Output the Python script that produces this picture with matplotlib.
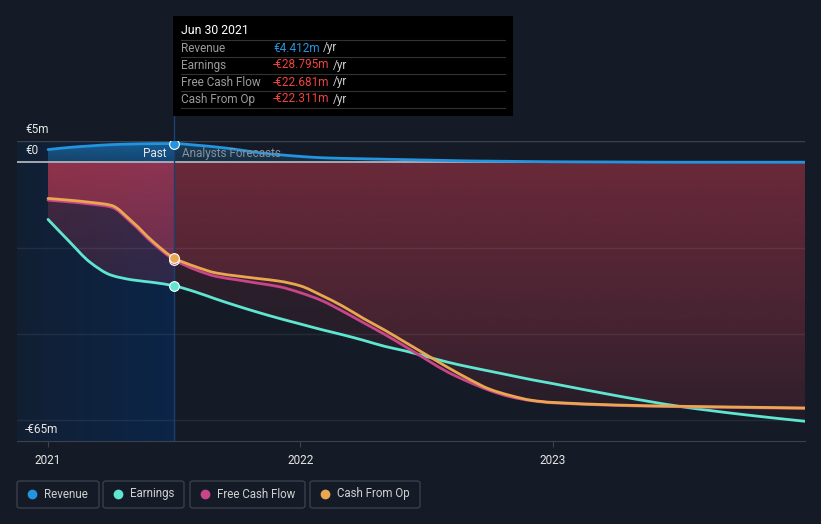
import numpy as np
import matplotlib as mpl
mpl.use('Agg')
import matplotlib.pyplot as plt
from matplotlib.colors import to_rgb
from matplotlib.patches import Rectangle, FancyBboxPatch, PathPatch
from matplotlib.path import Path

plt.rcParams['font.family'] = ['Roboto', 'DejaVu Sans']

# monthly points through 2022, then quarterly
t = [2021.0, 2021 + 1/12, 2021 + 2/12, 2021.25, 2021 + 4/12, 2021 + 5/12, 2021.5,
     2021 + 7/12, 2021 + 8/12, 2021.75, 2021 + 10/12, 2021 + 11/12, 2022.0,
     2022 + 1/12, 2022 + 2/12, 2022.25, 2022 + 4/12, 2022 + 5/12, 2022.5,
     2022 + 7/12, 2022 + 8/12, 2022.75, 2022 + 10/12, 2022 + 11/12, 2023.0,
     2023.25, 2023.5, 2023.75, 2024.0]

revenue = [3.0, 3.5, 3.85, 4.15, 4.3, 4.38, 4.412,
           4.05, 3.6, 3.0, 2.3, 1.8, 1.4,
           1.1, 0.95, 0.85, 0.75, 0.65, 0.55,
           0.45, 0.35, 0.3, 0.25, 0.2, 0.15,
           0.1, 0.05, 0.05, 0.05]
earnings = [-13.3, -18.4, -23.3, -26.3, -27.4, -28.0, -28.795,
            -30.2, -31.9, -33.5, -35.0, -36.4, -37.7,
            -39.0, -40.2, -41.5, -42.9, -44.0, -45.3,
            -46.6, -47.7, -48.7, -49.7, -50.7, -51.6,
            -54.4, -56.9, -58.8, -60.4]
fcf = [-8.8, -9.2, -9.7, -10.4, -14.2, -18.9, -22.681,
       -25.0, -26.6, -27.4, -28.2, -29.0, -30.4,
       -32.2, -34.7, -37.4, -40.1, -43.0, -46.0,
       -48.9, -51.2, -53.2, -54.7, -55.6, -56.1,
       -56.7, -57.0, -57.2, -57.4]
cfo = [-8.4, -8.8, -9.3, -10.0, -13.8, -18.5, -22.311,
       -24.3, -25.8, -26.5, -27.1, -27.7, -28.8,
       -31.0, -33.5, -36.4, -39.1, -42.0, -44.9,
       -47.8, -50.5, -52.9, -54.4, -55.5, -56.0,
       -56.6, -56.9, -57.1, -57.3]

names = ['Revenue', 'Earnings', 'Free Cash Flow', 'Cash From Op']
colors = ['#2394df', '#5ee6d0', '#c8458a', '#e9a84f']
tip_values = ['€4.412m', '-€28.795m', '-€22.681m', '-€22.311m']

BG = '#151b26'
W, H = 821, 524
x0, x1 = 2020.877, 2024.0
now = 2021.5

fig = plt.figure(figsize=(W / 100, H / 100), dpi=100, facecolor=BG)
ax = fig.add_axes([17 / W, 1 - 441 / H, 788 / W, 300 / H])
ax.set_facecolor(BG)


def px(x, y):
    return x / W, 1 - y / H


def curve_verts(x, y):
    # monotone cubic (like d3 curveMonotoneX) drawn as bezier segments
    x = np.asarray(x, float)
    y = np.asarray(y, float)
    h = np.diff(x)
    d = np.diff(y) / h
    m = np.zeros(len(x))
    m[0], m[-1] = d[0], d[-1]
    for i in range(1, len(x) - 1):
        if d[i - 1] * d[i] <= 0:
            m[i] = 0
        else:
            m[i] = (h[i - 1] + h[i]) * d[i - 1] * d[i] / (h[i] * d[i - 1] + h[i - 1] * d[i])
    verts = [(x[0], y[0])]
    codes = [Path.MOVETO]
    for i in range(len(x) - 1):
        verts += [(x[i] + h[i] / 3, y[i] + m[i] * h[i] / 3),
                  (x[i + 1] - h[i] / 3, y[i + 1] - m[i + 1] * h[i] / 3),
                  (x[i + 1], y[i + 1])]
        codes += [Path.CURVE4] * 3
    return verts, codes


def draw_line(x, y, color):
    v, c = curve_verts(x, y)
    ax.add_patch(PathPatch(Path(v, c), facecolor='none', edgecolor=color,
                           lw=2, zorder=3, capstyle='round'))


def grad_fill(x, y, color, parts):
    v, c = curve_verts(x, y)
    v = v + [(x[-1], 0), (x[0], 0), (x[0], y[0])]
    c = c + [Path.LINETO, Path.LINETO, Path.CLOSEPOLY]
    path = Path(v, c)
    lo = min(min(y), 0)
    hi = max(max(y), 0)
    for xa, xb, a_top, a_bot in parts:
        img = np.zeros((256, 1, 4))
        img[:, :, :3] = to_rgb(color)
        if hi > 0:
            img[:, 0, 3] = np.linspace(a_top, a_bot, 256)
        else:
            img[:, 0, 3] = np.linspace(a_top, a_bot, 256)
        im = ax.imshow(img, extent=[xa, xb, lo, hi], aspect='auto',
                       origin='upper', zorder=1, interpolation='bilinear')
        im.set_clip_path(path, ax.transData)


# past shading
past = np.zeros((1, 64, 4))
past[0, :, :3] = np.linspace(to_rgb('#121f33'), to_rgb('#0b2548'), 64)
past[0, :, 3] = 1.0
ax.imshow(past, extent=[x0, now, -65, 5], aspect='auto', zorder=0.5,
          interpolation='bilinear')

grad_fill(t, revenue, '#2394df', [(t[0], now, 0.5, 0.3), (now, t[-1], 0.3, 0.15)])
for s in [earnings, fcf, cfo]:
    grad_fill(t, s, '#e8405a', [(t[0], now, 0.26, 0.04), (now, t[-1], 0.16, 0.05)])

for g in [-20, -40, -60]:
    ax.axhline(g, color='#ffffff', alpha=0.07, lw=1, zorder=1.5)
ax.axhline(5, color='#3c424d', lw=1, zorder=1.5)
ax.axhline(0, color='#aeb3bb', lw=1.3, zorder=2)
ax.axvline(now, ymin=0, ymax=1 + 25 / 300, color='#1d3f6e', lw=1,
           zorder=2, clip_on=False)

for s, c in zip([revenue, earnings, fcf, cfo], colors):
    draw_line(t, s, c)
    ax.plot([now], [s[6]], 'o', ms=7, color=c, mec='white', mew=0.8, zorder=4)

ax.set_xlim(x0, x1)
ax.set_ylim(-65, 5)
for sp in ['top', 'right', 'left']:
    ax.spines[sp].set_visible(False)
ax.spines['bottom'].set_color('#3c424d')
ax.set_yticks([])
ax.set_xticks([2021, 2022, 2023])
ax.set_xticklabels(['2021', '2022', '2023'])
ax.tick_params(axis='x', colors='#3c424d', labelcolor='#e6e6e6',
               labelsize=8.5, length=4, pad=5)

# y labels sit just above their lines
for v, lab in [(5, '€5m'), (0, '€0'), (-65, '-€65m')]:
    ax.text(x0 + 0.032, v + 1.2, lab, color='#e6e6e6', fontsize=8.5,
            va='bottom', ha='left', zorder=5)
ax.text(now - 0.03, 2.0, 'Past', color='#e6e6e6', fontsize=8.5,
        ha='right', va='center', zorder=5)
ax.text(now + 0.03, 2.0, 'Analysts Forecasts', color='#8a8f98',
        fontsize=8.5, ha='left', va='center', zorder=5)

# tooltip
fig.add_artist(Rectangle(px(173, 116), 340 / W, 100 / H, transform=fig.transFigure,
                         facecolor='black', edgecolor='none', zorder=10))
fig.text(*px(181, 31), 'Jun 30 2021', color='white', fontsize=8.8,
         va='center', zorder=11)
for i, (n, v) in enumerate(zip(names, tip_values)):
    yy = 48 + 17 * i
    fig.add_artist(plt.Line2D([181 / W, 505 / W], [1 - (yy - 8) / H] * 2,
                              transform=fig.transFigure, color='#333333',
                              lw=0.8, zorder=11))
    fig.text(*px(181, yy), n, color='#9a9a9a', fontsize=8.5, va='center', zorder=11)
    vc = '#2394df' if i == 0 else '#f0433f'
    tv = fig.text(*px(273, yy), v, color=vc, fontsize=8.5, va='center', zorder=11)
    fig.canvas.draw()
    bb = tv.get_window_extent()
    fig.text(bb.x1 / W + 3 / W, 1 - yy / H, '/yr', color='#cfcfcf',
             fontsize=8.5, va='center', zorder=11)
fig.add_artist(plt.Line2D([181 / W, 505 / W], [1 - 108 / H] * 2,
                          transform=fig.transFigure, color='#333333',
                          lw=0.8, zorder=11))

# legend boxes
boxes = [(17, 99), (103, 184), (190, 305), (310, 420)]
for (bx0, bx1), n, c in zip(boxes, names, colors):
    fig.add_artist(FancyBboxPatch(px(bx0, 508), (bx1 - bx0) / W, 27 / H,
                                  boxstyle='round,pad=0,rounding_size=0.004',
                                  transform=fig.transFigure, facecolor='none',
                                  edgecolor='#3a3f4a', lw=1))
    fig.add_artist(plt.Line2D([(bx0 + 15) / W], [1 - 494 / H], marker='o', ms=6,
                              color=c, transform=fig.transFigure))
    fig.text(*px(bx0 + 27, 494), n, color='#d0d0d0', fontsize=8.3, va='center')

fig.savefig('out.png', dpi=100, facecolor=BG)
